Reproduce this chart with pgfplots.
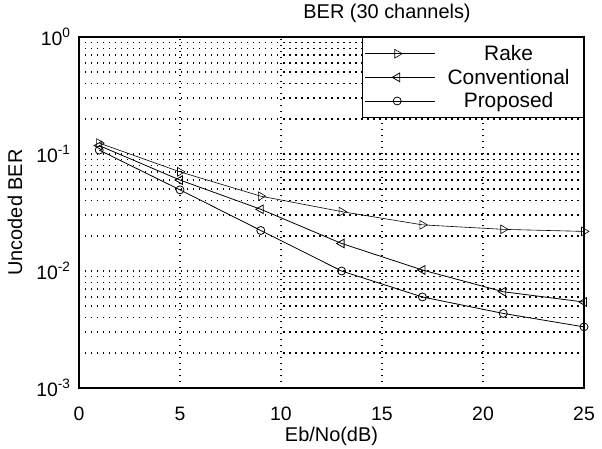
\documentclass[border=0pt]{standalone}
\usepackage{pgfplots}
\pgfplotsset{compat=1.18}
\usepackage{fontspec}
\setmainfont{Liberation Sans}
\begin{document}
\begin{tikzpicture}
\begin{axis}[
  at={(0,0)}, anchor=south west,
  scale only axis, width=505bp, height=351bp,
  xmin=0, xmax=25, ymin=1e-3, ymax=1,
  ymode=log,
  xtick={0,5,10,15,20,25},
  xticklabels={0,5,10,15,20,25},
  ytick={1e-3,1e-2,1e-1,1},
  yticklabels={10\textsuperscript{-3},10\textsuperscript{-2},10\textsuperscript{-1},10\textsuperscript{0}},
  grid=both,
  major grid style={black, line width=1.5bp, dash pattern=on 1.5bp off 4.5bp},
  minor grid style={black, line width=1.5bp, dash pattern=on 1.5bp off 4.5bp},
  major tick length=0pt, minor tick length=0pt,
  axis line style={black, line width=1.2bp},
  tick label style={font=\fontsize{19.5}{22}\selectfont, black},
  yticklabel style={anchor=east, xshift=-5bp},
  xticklabel style={anchor=base, yshift=-32bp},
  label style={font=\fontsize{20}{23}\selectfont},
  every axis title shift=0pt,
  title style={font=\fontsize{20}{23}\selectfont, at={(axis description cs:0.61,1.054)}, anchor=base},
  title={BER (30 channels)},
  xlabel={Eb/No(dB)},
  ylabel={Uncoded BER},
  xlabel style={at={(axis description cs:0.5,-0.151)}, anchor=base},
  ylabel style={at={(axis description cs:-0.1267,0.5)}, anchor=center},
  legend style={at={(1,1)}, anchor=north east, draw=black, line width=0.8bp,
    font=\fontsize{21}{24}\selectfont, inner xsep=2bp, inner ysep=6bp, row sep=3bp},
  legend image code/.code={\path (0bp,0bp) -- (70bp,0bp);
    \draw[mark repeat=2,mark phase=2] plot coordinates {(4bp,0bp) (32bp,0bp) (60bp,0bp)};},
]
\addplot[black, line width=0.6bp, mark=triangle, mark size=5bp, mark options={rotate=-90, solid, fill=white}]
  coordinates {(1,0.124) (5,0.0704) (9,0.0436) (13,0.0322) (17,0.0248) (21,0.0227) (25,0.0218)};
\addlegendentry{\makebox[142bp][c]{Rake}}
\addplot[black, line width=0.8bp, mark=triangle, mark size=5bp, mark options={rotate=90, solid, fill=white}]
  coordinates {(1,0.118) (5,0.0599) (9,0.0337) (13,0.0172) (17,0.0102) (21,0.00665) (25,0.00543)};
\addlegendentry{\makebox[142bp][c]{Conventional}}
\addplot[black, line width=0.8bp, mark=o, mark size=4bp, mark options={solid, fill=white}]
  coordinates {(1,0.108) (5,0.0494) (9,0.0222) (13,0.0100) (17,0.0060) (21,0.00434) (25,0.00333)};
\addlegendentry{\makebox[142bp][c]{Proposed}}
\end{axis}
\pgfresetboundingbox
\path[use as bounding box] (-79bp,-61bp) rectangle (523bp,388bp);
\end{tikzpicture}
\end{document}
